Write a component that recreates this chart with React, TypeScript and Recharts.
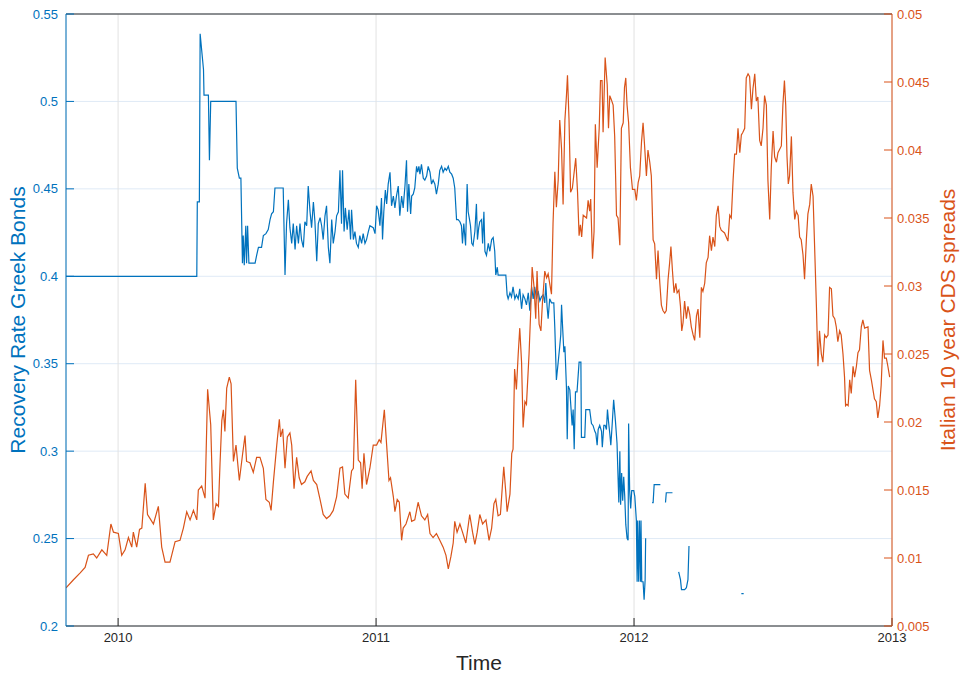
import React from 'react'
import { LineChart, Line, XAxis, YAxis, CartesianGrid } from 'recharts'

const yearTicks = [2010, 2011, 2012, 2013]
const recoveryTicks = [0.2, 0.25, 0.3, 0.35, 0.4, 0.45, 0.5, 0.55]
const cdsTicks = [0.005, 0.01, 0.015, 0.02, 0.025, 0.03, 0.035, 0.04, 0.045, 0.05]

// [decimal year, recovery rate]; null marks a break in the series
const recoveryRate: [number, number | null][] = [
  [2009.798, 0.4], [2010.305, 0.4], [2010.307, 0.4425], [2010.315, 0.4425], [2010.318, 0.5387], [2010.331, 0.5183],
  [2010.333, 0.5036], [2010.35, 0.5036], [2010.354, 0.4663], [2010.359, 0.5], [2010.457, 0.5], [2010.462, 0.4618],
  [2010.47, 0.4561], [2010.476, 0.4561], [2010.482, 0.4075], [2010.485, 0.4233], [2010.489, 0.4063], [2010.495, 0.4289],
  [2010.498, 0.4075], [2010.502, 0.4289], [2010.507, 0.4075], [2010.531, 0.4075], [2010.537, 0.412], [2010.544, 0.4165],
  [2010.556, 0.4165], [2010.563, 0.4233], [2010.573, 0.4244], [2010.582, 0.4267], [2010.589, 0.4324], [2010.595, 0.4357],
  [2010.602, 0.4369], [2010.608, 0.4505], [2010.64, 0.4505], [2010.647, 0.4007], [2010.653, 0.4301], [2010.66, 0.4437],
  [2010.666, 0.4278], [2010.673, 0.4188], [2010.679, 0.4301], [2010.686, 0.4154], [2010.692, 0.4289], [2010.699, 0.4188],
  [2010.705, 0.4301], [2010.711, 0.421], [2010.718, 0.4165], [2010.724, 0.4312], [2010.731, 0.4289], [2010.737, 0.4516],
  [2010.744, 0.4369], [2010.75, 0.4278], [2010.757, 0.4425], [2010.763, 0.4312], [2010.77, 0.4086], [2010.776, 0.4301],
  [2010.783, 0.4335], [2010.789, 0.4289], [2010.795, 0.421], [2010.802, 0.4346], [2010.808, 0.4403], [2010.815, 0.4165],
  [2010.821, 0.4075], [2010.828, 0.4324], [2010.834, 0.4188], [2010.841, 0.4256], [2010.847, 0.4346], [2010.854, 0.4369],
  [2010.86, 0.4606], [2010.866, 0.4301], [2010.87, 0.4606], [2010.876, 0.4256], [2010.881, 0.4391], [2010.888, 0.4267],
  [2010.895, 0.438], [2010.901, 0.421], [2010.905, 0.438], [2010.912, 0.421], [2010.918, 0.4256], [2010.924, 0.4188],
  [2010.931, 0.4165], [2010.937, 0.4233], [2010.944, 0.4188], [2010.95, 0.4244], [2010.957, 0.4188], [2010.963, 0.421],
  [2010.97, 0.4256], [2010.976, 0.4289], [2010.989, 0.4278], [2010.996, 0.4244], [2011.002, 0.4403], [2011.008, 0.438],
  [2011.015, 0.4289], [2011.021, 0.4448], [2011.025, 0.421], [2011.03, 0.4369], [2011.036, 0.4493], [2011.041, 0.4414],
  [2011.047, 0.4527], [2011.054, 0.4595], [2011.06, 0.4403], [2011.067, 0.4459], [2011.073, 0.4391], [2011.079, 0.4459],
  [2011.086, 0.4516], [2011.092, 0.4346], [2011.099, 0.4459], [2011.105, 0.4391], [2011.112, 0.4516], [2011.118, 0.4663],
  [2011.122, 0.4369], [2011.127, 0.4527], [2011.134, 0.4357], [2011.138, 0.4459], [2011.144, 0.447], [2011.15, 0.4505],
  [2011.157, 0.4629], [2011.161, 0.4595], [2011.166, 0.4629], [2011.17, 0.4584], [2011.176, 0.464], [2011.183, 0.4561],
  [2011.189, 0.455], [2011.196, 0.4573], [2011.202, 0.4629], [2011.209, 0.4595], [2011.215, 0.4527], [2011.221, 0.455],
  [2011.228, 0.4527], [2011.234, 0.447], [2011.241, 0.4527], [2011.247, 0.4606], [2011.254, 0.4629], [2011.26, 0.4595],
  [2011.267, 0.4618], [2011.273, 0.4606], [2011.28, 0.4629], [2011.286, 0.4595], [2011.293, 0.4584], [2011.299, 0.4561],
  [2011.305, 0.4505], [2011.312, 0.4324], [2011.318, 0.4324], [2011.325, 0.4312], [2011.331, 0.4289], [2011.335, 0.4188],
  [2011.34, 0.4301], [2011.347, 0.4176], [2011.353, 0.4527], [2011.357, 0.4369], [2011.361, 0.4335], [2011.366, 0.4289],
  [2011.371, 0.4188], [2011.376, 0.4176], [2011.383, 0.4256], [2011.389, 0.4414], [2011.393, 0.421], [2011.398, 0.4278],
  [2011.402, 0.4312], [2011.409, 0.4324], [2011.413, 0.4188], [2011.418, 0.4369], [2011.422, 0.4143], [2011.428, 0.412],
  [2011.435, 0.4188], [2011.441, 0.4143], [2011.448, 0.421], [2011.454, 0.4222], [2011.46, 0.4143], [2011.464, 0.4007],
  [2011.47, 0.4052], [2011.473, 0.4007], [2011.503, 0.4007], [2011.508, 0.3894], [2011.512, 0.3871], [2011.519, 0.3905],
  [2011.525, 0.3882], [2011.531, 0.3939], [2011.538, 0.3871], [2011.544, 0.3894], [2011.551, 0.3871], [2011.557, 0.3928],
  [2011.564, 0.3814], [2011.57, 0.3894], [2011.577, 0.3871], [2011.583, 0.3837], [2011.59, 0.3905], [2011.596, 0.3803],
  [2011.603, 0.3939], [2011.609, 0.3871], [2011.615, 0.3939], [2011.622, 0.3871], [2011.628, 0.3916], [2011.635, 0.386],
  [2011.641, 0.3882], [2011.648, 0.3894], [2011.654, 0.3848], [2011.658, 0.3962], [2011.663, 0.3826], [2011.667, 0.3758],
  [2011.673, 0.3871], [2011.68, 0.3848], [2011.689, 0.3848], [2011.693, 0.3701], [2011.699, 0.3407], [2011.706, 0.3509],
  [2011.712, 0.36], [2011.716, 0.3667], [2011.719, 0.3837], [2011.723, 0.3713], [2011.728, 0.3566], [2011.732, 0.36],
  [2011.738, 0.3362], [2011.741, 0.3068], [2011.745, 0.3373], [2011.751, 0.3351], [2011.755, 0.326], [2011.76, 0.3147],
  [2011.764, 0.3238], [2011.768, 0.3011], [2011.773, 0.3339], [2011.779, 0.3339], [2011.787, 0.3509], [2011.794, 0.3509],
  [2011.796, 0.3079], [2011.809, 0.3079], [2011.813, 0.3238], [2011.828, 0.3238], [2011.835, 0.3158], [2011.841, 0.3147],
  [2011.848, 0.3113], [2011.852, 0.3101], [2011.857, 0.3034], [2011.861, 0.3124], [2011.867, 0.3147], [2011.874, 0.3113],
  [2011.877, 0.3022], [2011.883, 0.3147], [2011.888, 0.3147], [2011.893, 0.3124], [2011.897, 0.3238], [2011.901, 0.317],
  [2011.906, 0.3101], [2011.91, 0.3034], [2011.915, 0.3147], [2011.921, 0.3294], [2011.928, 0.317], [2011.934, 0.3045],
  [2011.941, 0.2706], [2011.945, 0.3], [2011.948, 0.2694], [2011.952, 0.2875], [2011.956, 0.2716], [2011.96, 0.2853],
  [2011.964, 0.274], [2011.968, 0.2581], [2011.973, 0.2502], [2011.977, 0.2491], [2011.979, 0.3158], [2011.983, 0.2774],
  [2011.987, 0.2672], [2011.991, 0.2774], [2011.999, 0.2774], [2012.003, 0.274], [2012.009, 0.2604], [2012.012, 0.2253],
  [2012.014, 0.2604], [2012.018, 0.2253], [2012.021, 0.2604], [2012.025, 0.2253], [2012.027, 0.2604], [2012.03, 0.2253],
  [2012.035, 0.2253], [2012.039, 0.2151], [2012.043, 0.2265], [2012.045, 0.2502], [2012.057, null],
  [2012.07, 0.2706], [2012.074, 0.2706], [2012.078, 0.2808], [2012.102, 0.2808], [2012.112, null],
  [2012.122, 0.2706], [2012.125, 0.2762], [2012.149, 0.2762], [2012.16, null],
  [2012.173, 0.231], [2012.18, 0.2265], [2012.184, 0.2208], [2012.196, 0.2208], [2012.203, 0.2219], [2012.209, 0.2265],
  [2012.213, 0.2457], [2012.3, null],
  [2012.416, 0.2185], [2012.425, 0.2185],
]

// [decimal year, Italian 10y CDS spread]
const cdsSpread: [number, number][] = [
  [2009.798, 0.0078], [2009.827, 0.0084], [2009.853, 0.0089], [2009.872, 0.0093], [2009.885, 0.0102], [2009.904, 0.0103],
  [2009.917, 0.01], [2009.937, 0.0106], [2009.956, 0.0102], [2009.972, 0.0125], [2009.982, 0.0119], [2010.001, 0.0118],
  [2010.014, 0.0102], [2010.027, 0.0106], [2010.04, 0.0115], [2010.053, 0.0108], [2010.059, 0.0119], [2010.072, 0.0108],
  [2010.083, 0.0121], [2010.092, 0.0122], [2010.105, 0.0155], [2010.114, 0.0132], [2010.124, 0.0129], [2010.137, 0.0125],
  [2010.156, 0.0138], [2010.169, 0.0108], [2010.182, 0.0097], [2010.201, 0.0097], [2010.221, 0.0112], [2010.24, 0.0113],
  [2010.253, 0.0122], [2010.266, 0.0134], [2010.279, 0.0128], [2010.292, 0.0135], [2010.305, 0.0128], [2010.311, 0.015],
  [2010.324, 0.0153], [2010.337, 0.0144], [2010.347, 0.0224], [2010.359, 0.0198], [2010.369, 0.0128], [2010.38, 0.014],
  [2010.389, 0.0138], [2010.395, 0.0169], [2010.402, 0.0201], [2010.408, 0.0209], [2010.414, 0.0193], [2010.421, 0.0225],
  [2010.431, 0.0233], [2010.438, 0.0228], [2010.447, 0.0171], [2010.457, 0.0183], [2010.47, 0.0157], [2010.483, 0.0177],
  [2010.492, 0.019], [2010.498, 0.0171], [2010.511, 0.017], [2010.524, 0.0163], [2010.537, 0.0174], [2010.55, 0.0174],
  [2010.563, 0.0166], [2010.573, 0.0143], [2010.586, 0.0141], [2010.593, 0.0135], [2010.602, 0.0156], [2010.615, 0.0183],
  [2010.625, 0.0202], [2010.63, 0.0189], [2010.638, 0.0195], [2010.647, 0.0166], [2010.656, 0.0189], [2010.666, 0.0192],
  [2010.673, 0.0183], [2010.682, 0.0151], [2010.692, 0.0174], [2010.702, 0.0159], [2010.711, 0.0154], [2010.724, 0.0156],
  [2010.733, 0.016], [2010.748, 0.0164], [2010.757, 0.0157], [2010.77, 0.0154], [2010.783, 0.0143], [2010.795, 0.0132],
  [2010.808, 0.0129], [2010.821, 0.0131], [2010.834, 0.0135], [2010.847, 0.0145], [2010.86, 0.0166], [2010.87, 0.0167],
  [2010.879, 0.0147], [2010.892, 0.0144], [2010.905, 0.0164], [2010.912, 0.0166], [2010.921, 0.0231], [2010.931, 0.0172],
  [2010.94, 0.017], [2010.946, 0.0151], [2010.953, 0.0177], [2010.963, 0.0154], [2010.976, 0.0166], [2010.989, 0.0183],
  [2011.002, 0.0183], [2011.012, 0.0187], [2011.019, 0.0185], [2011.032, 0.0209], [2011.041, 0.0183], [2011.05, 0.0157],
  [2011.056, 0.0159], [2011.067, 0.0145], [2011.073, 0.0134], [2011.082, 0.0143], [2011.09, 0.0141], [2011.099, 0.0113],
  [2011.105, 0.0122], [2011.116, 0.0125], [2011.131, 0.0134], [2011.138, 0.0127], [2011.15, 0.0128], [2011.163, 0.0141],
  [2011.176, 0.0131], [2011.189, 0.0128], [2011.2, 0.0132], [2011.209, 0.0118], [2011.221, 0.0115], [2011.234, 0.0118],
  [2011.247, 0.0113], [2011.26, 0.0108], [2011.271, 0.0102], [2011.28, 0.0092], [2011.29, 0.0101], [2011.299, 0.0111],
  [2011.305, 0.0127], [2011.314, 0.0119], [2011.325, 0.0125], [2011.335, 0.0119], [2011.348, 0.0111], [2011.363, 0.0132],
  [2011.374, 0.0119], [2011.383, 0.011], [2011.392, 0.0119], [2011.402, 0.0132], [2011.413, 0.0125], [2011.426, 0.0128],
  [2011.438, 0.0113], [2011.448, 0.0122], [2011.457, 0.014], [2011.464, 0.0143], [2011.473, 0.0131], [2011.482, 0.0132],
  [2011.49, 0.0154], [2011.495, 0.0167], [2011.503, 0.0148], [2011.508, 0.0134], [2011.519, 0.0147], [2011.526, 0.0177],
  [2011.531, 0.018], [2011.537, 0.0239], [2011.544, 0.0224], [2011.551, 0.025], [2011.557, 0.0269], [2011.564, 0.0244],
  [2011.57, 0.0196], [2011.577, 0.0215], [2011.583, 0.0213], [2011.593, 0.025], [2011.599, 0.0279], [2011.605, 0.0314],
  [2011.612, 0.03], [2011.619, 0.0276], [2011.624, 0.0311], [2011.632, 0.0272], [2011.639, 0.0267], [2011.645, 0.0288],
  [2011.654, 0.0311], [2011.661, 0.0306], [2011.667, 0.0309], [2011.673, 0.0302], [2011.68, 0.0294], [2011.686, 0.0346],
  [2011.693, 0.0384], [2011.699, 0.0358], [2011.706, 0.0378], [2011.712, 0.0422], [2011.719, 0.0401], [2011.725, 0.036],
  [2011.732, 0.0422], [2011.738, 0.044], [2011.742, 0.0455], [2011.748, 0.0422], [2011.754, 0.0369], [2011.761, 0.0372],
  [2011.768, 0.0384], [2011.774, 0.0394], [2011.781, 0.0369], [2011.787, 0.0337], [2011.792, 0.0345], [2011.797, 0.0336],
  [2011.803, 0.0352], [2011.816, 0.035], [2011.822, 0.0363], [2011.828, 0.0355], [2011.832, 0.0364], [2011.839, 0.032],
  [2011.845, 0.034], [2011.85, 0.0419], [2011.857, 0.0387], [2011.865, 0.0416], [2011.87, 0.0451], [2011.876, 0.0451],
  [2011.88, 0.0413], [2011.888, 0.0468], [2011.896, 0.0448], [2011.901, 0.0416], [2011.906, 0.044], [2011.912, 0.0437],
  [2011.919, 0.0433], [2011.925, 0.041], [2011.932, 0.0352], [2011.938, 0.035], [2011.945, 0.033], [2011.951, 0.0416],
  [2011.958, 0.042], [2011.963, 0.0446], [2011.968, 0.0453], [2011.973, 0.0433], [2011.979, 0.042], [2011.986, 0.0387],
  [2011.994, 0.0371], [2012.003, 0.0371], [2012.009, 0.0363], [2012.016, 0.0376], [2012.022, 0.0381], [2012.029, 0.0406],
  [2012.035, 0.042], [2012.041, 0.0403], [2012.048, 0.0381], [2012.054, 0.04], [2012.061, 0.0391], [2012.067, 0.0381],
  [2012.074, 0.0334], [2012.08, 0.0331], [2012.087, 0.0305], [2012.093, 0.0326], [2012.1, 0.0302], [2012.106, 0.0286],
  [2012.112, 0.0282], [2012.119, 0.028], [2012.125, 0.0282], [2012.132, 0.0305], [2012.138, 0.0317], [2012.143, 0.0329],
  [2012.149, 0.0311], [2012.155, 0.0295], [2012.162, 0.0302], [2012.167, 0.0295], [2012.174, 0.0297], [2012.18, 0.0285],
  [2012.185, 0.0267], [2012.19, 0.0273], [2012.196, 0.0289], [2012.203, 0.0276], [2012.209, 0.0285], [2012.216, 0.0279],
  [2012.222, 0.027], [2012.229, 0.0264], [2012.235, 0.026], [2012.242, 0.0278], [2012.248, 0.0283], [2012.255, 0.0262],
  [2012.261, 0.0299], [2012.267, 0.0296], [2012.274, 0.0302], [2012.28, 0.0317], [2012.287, 0.0321], [2012.293, 0.0337],
  [2012.3, 0.0326], [2012.306, 0.0336], [2012.313, 0.0329], [2012.319, 0.0352], [2012.326, 0.0359], [2012.332, 0.0344],
  [2012.338, 0.0341], [2012.351, 0.0339], [2012.364, 0.0333], [2012.371, 0.0352], [2012.377, 0.035], [2012.384, 0.0378],
  [2012.39, 0.0397], [2012.397, 0.0397], [2012.403, 0.0416], [2012.41, 0.0398], [2012.416, 0.0411], [2012.422, 0.0413],
  [2012.429, 0.0416], [2012.435, 0.0453], [2012.442, 0.0456], [2012.448, 0.0454], [2012.455, 0.043], [2012.461, 0.0445],
  [2012.468, 0.0456], [2012.474, 0.0436], [2012.48, 0.0439], [2012.487, 0.0407], [2012.493, 0.0403], [2012.5, 0.0416],
  [2012.506, 0.044], [2012.513, 0.0433], [2012.519, 0.0378], [2012.526, 0.0349], [2012.532, 0.0387], [2012.539, 0.0414],
  [2012.545, 0.0395], [2012.552, 0.0391], [2012.558, 0.0398], [2012.571, 0.0403], [2012.577, 0.0433], [2012.583, 0.0451],
  [2012.588, 0.0433], [2012.593, 0.0395], [2012.598, 0.0375], [2012.603, 0.0381], [2012.61, 0.041], [2012.616, 0.0369],
  [2012.623, 0.0349], [2012.629, 0.0355], [2012.636, 0.0352], [2012.642, 0.0336], [2012.648, 0.0334], [2012.655, 0.0323],
  [2012.661, 0.0305], [2012.668, 0.0334], [2012.674, 0.0353], [2012.681, 0.036], [2012.687, 0.0375], [2012.694, 0.0366],
  [2012.7, 0.0329], [2012.707, 0.0285], [2012.713, 0.0241], [2012.719, 0.0267], [2012.726, 0.025], [2012.732, 0.0244],
  [2012.739, 0.0264], [2012.745, 0.0262], [2012.752, 0.0264], [2012.758, 0.0299], [2012.765, 0.0298], [2012.771, 0.0278],
  [2012.778, 0.0276], [2012.784, 0.027], [2012.79, 0.0259], [2012.797, 0.0267], [2012.803, 0.0264], [2012.81, 0.025],
  [2012.816, 0.0233], [2012.82, 0.0212], [2012.825, 0.0213], [2012.83, 0.0212], [2012.836, 0.0231], [2012.842, 0.0221],
  [2012.849, 0.0241], [2012.855, 0.0233], [2012.862, 0.0241], [2012.868, 0.0251], [2012.874, 0.0253], [2012.881, 0.027],
  [2012.887, 0.0275], [2012.894, 0.0269], [2012.907, 0.027], [2012.913, 0.0238], [2012.92, 0.0231], [2012.926, 0.0224],
  [2012.932, 0.0217], [2012.939, 0.0215], [2012.945, 0.0203], [2012.952, 0.0212], [2012.958, 0.0227], [2012.965, 0.026],
  [2012.971, 0.0247], [2012.978, 0.0247], [2012.984, 0.0241], [2012.991, 0.0233],
]

const BLUE = '#0072BD'
const ORANGE = '#D95319'
const INK = '#262626'
const FONT = '"Liberation Sans", Arial, Helvetica, sans-serif'
const X_DOMAIN: [number, number] = [2009.798, 2013]

const fmt = (v: number) => String(Number(v.toFixed(4)))

export default function App() {
  const recoveryData = recoveryRate.map(([t, v]) => ({ t, v }))
  const cdsData = cdsSpread.map(([t, v]) => ({ t, v }))

  return (
    <div style={{ position: 'absolute', left: 0, top: 0, width: 961, height: 675, background: '#fff', fontFamily: FONT }}>
      <LineChart width={961} height={675} margin={{ top: 13, right: 0, bottom: 0, left: 8 }}>
        <CartesianGrid xAxisId="bottom" yAxisId="left" vertical={false} stroke="#dfeaf6" />
        <CartesianGrid xAxisId="bottom" yAxisId="left" horizontal={false} stroke="#e2e2e2" />
        <XAxis
          xAxisId="bottom"
          dataKey="t"
          type="number"
          domain={X_DOMAIN}
          ticks={yearTicks}
          allowDataOverflow
          height={49}
          tickSize={-8}
          tickMargin={15}
          stroke={INK}
          tick={{ fill: INK, fontSize: 13 }}
          tickFormatter={(v: number) => String(v)}
          label={{ value: 'Time', position: 'insideBottom', offset: 5, fill: INK, fontSize: 21 }}
        />
        <XAxis
          xAxisId="top"
          orientation="top"
          dataKey="t"
          type="number"
          domain={X_DOMAIN}
          ticks={yearTicks}
          allowDataOverflow
          height={1}
          tickSize={-8}
          tick={false}
          stroke={INK}
        />
        <YAxis
          yAxisId="left"
          type="number"
          domain={[0.2, 0.55]}
          ticks={recoveryTicks}
          allowDataOverflow
          width={58}
          tickSize={-8}
          tickMargin={16}
          stroke={BLUE}
          tick={{ fill: BLUE, fontSize: 13 }}
          tickFormatter={fmt}
          label={{
            value: 'Recovery Rate Greek Bonds', angle: -90, position: 'insideLeft', offset: 9.5,
            fill: BLUE, fontSize: 21, style: { textAnchor: 'middle' },
          }}
        />
        <YAxis
          yAxisId="right"
          orientation="right"
          type="number"
          domain={[0.005, 0.05]}
          ticks={cdsTicks}
          allowDataOverflow
          width={69}
          tickSize={-8}
          tickMargin={13}
          stroke={ORANGE}
          tick={{ fill: ORANGE, fontSize: 13 }}
          tickFormatter={fmt}
          label={{
            value: 'Italian 10 year CDS spreads', angle: -90, position: 'insideRight', offset: 13.5,
            fill: ORANGE, fontSize: 21, style: { textAnchor: 'middle' },
          }}
        />
        <Line
          xAxisId="bottom"
          yAxisId="left"
          data={recoveryData}
          dataKey="v"
          type="linear"
          stroke={BLUE}
          strokeWidth={1.2}
          dot={false}
          activeDot={false}
          isAnimationActive={false}
        />
        <Line
          xAxisId="bottom"
          yAxisId="right"
          data={cdsData}
          dataKey="v"
          type="linear"
          stroke={ORANGE}
          strokeWidth={1.2}
          dot={false}
          activeDot={false}
          isAnimationActive={false}
        />
      </LineChart>
    </div>
  )
}
